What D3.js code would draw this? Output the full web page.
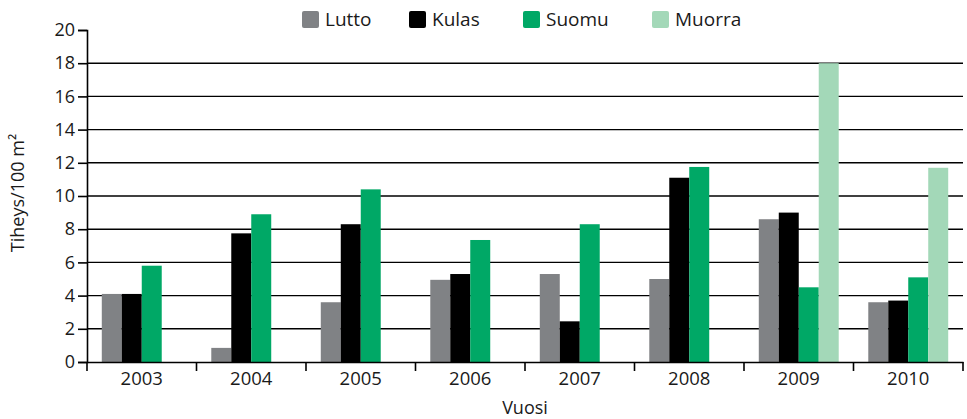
<!DOCTYPE html>
<html>
  <head>
    <meta charset="utf-8">
    <title>Tiheys</title>
    <style>
      body {
        margin: 0;
        padding: 0;
        background: #fff;
        font-family: 'Open Sans', sans-serif;
      }
    </style>
  </head>
  <body>
    <div id="chart"></div>

    <script src="https://cdnjs.cloudflare.com/ajax/libs/d3/7.8.5/d3.min.js"></script>
    <script>
      // Data
      const years = ["2003", "2004", "2005", "2006", "2007", "2008", "2009", "2010"];
      const seriesNames = ["Lutto", "Kulas", "Suomu", "Muorra"];
      const lutto = [4.1, 0.85, 3.6, 4.95, 5.3, 5.0, 8.6, 3.6];
      const kulas = [4.1, 7.75, 8.3, 5.3, 2.45, 11.1, 9.0, 3.7];
      const suomu = [5.8, 8.9, 10.4, 7.35, 8.3, 11.75, 4.5, 5.1];
      const muorra = [null, null, null, null, null, null, 18.0, 11.7];
      const yTicks = [0, 2, 4, 6, 8, 10, 12, 14, 16, 18, 20];
      const colors = ["#808285", "#000000", "#00a866", "#a3d8b8"];

      const values = [lutto, kulas, suomu, muorra];
      const rows = [];
      years.forEach((y, i) => {
        seriesNames.forEach((s, j) => {
          if (values[j][i] != null) rows.push({year: y, series: s, value: values[j][i]});
        });
      });

      const W = 967, H = 419;
      const svg = d3.select('#chart')
                    .append('svg')
                    .attr('width', W)
                    .attr('height', H)
                    .style('font-family', "'Open Sans', sans-serif");

      const x = d3.scaleBand()
                  .domain(years)
                  .range([87, 963])
                  .paddingInner(0)
                  .paddingOuter(0);

      // four bar slots per year, centred in the band
      const xInner = d3.scaleBand()
                       .domain(seriesNames)
                       .range([0, x.bandwidth()])
                       .paddingOuter(0.74)
                       .paddingInner(0);

      const y = d3.scaleLinear()
                  .domain([0, 20])
                  .range([362, 30]);

      const color = d3.scaleOrdinal().domain(seriesNames).range(colors);

      // gridlines
      svg.append('g')
         .selectAll('line')
         .data(yTicks.filter(t => t > 0 && t < 20))
         .enter()
         .append('line')
         .attr('x1', 87)
         .attr('x2', 963)
         .attr('y1', d => y(d))
         .attr('y2', d => y(d))
         .attr('stroke', '#000')
         .attr('stroke-width', 1.4);

      // bars
      svg.append('g')
         .selectAll('rect')
         .data(rows)
         .enter()
         .append('rect')
         .attr('x', d => x(d.year) + xInner(d.series))
         .attr('y', d => y(d.value))
         .attr('width', xInner.bandwidth())
         .attr('height', d => y(0) - y(d.value))
         .attr('fill', d => color(d.series));

      // y axis
      const yAxis = svg.append('g')
         .attr('transform', 'translate(87,0)')
         .call(d3.axisLeft(y).tickValues(yTicks).tickSize(9).tickPadding(3));
      yAxis.select('.domain').attr('stroke', '#000').attr('stroke-width', 1.6);
      yAxis.selectAll('.tick line').attr('stroke-width', 1.6);
      yAxis.selectAll('.tick text')
           .attr('font-size', 18)
           .attr('font-family', "'Open Sans', sans-serif")
           .attr('fill', '#1a1a1a');

      // x axis
      const xAxis = svg.append('g')
         .attr('transform', 'translate(0,362)')
         .call(d3.axisBottom(x).tickSize(0).tickPadding(10));
      xAxis.select('.domain').attr('stroke', '#000').attr('stroke-width', 1.6);
      xAxis.selectAll('.tick text')
           .attr('font-size', 18.5)
           .attr('font-family', "'Open Sans', sans-serif")
           .attr('fill', '#1a1a1a');

      // x separators between categories
      const bounds = years.map(d => x(d)).concat([x(years[years.length - 1]) + x.bandwidth()]);
      svg.append('g')
         .selectAll('line')
         .data(bounds)
         .enter()
         .append('line')
         .attr('x1', d => d)
         .attr('x2', d => d)
         .attr('y1', 362)
         .attr('y2', 371)
         .attr('stroke', '#000')
         .attr('stroke-width', 1.6);

      // axis titles
      svg.append('text')
         .attr('x', 525)
         .attr('y', 414)
         .attr('text-anchor', 'middle')
         .attr('font-size', 18)
         .attr('fill', '#1a1a1a')
         .text('Vuosi');

      svg.append('text')
         .attr('transform', 'translate(24,193) rotate(-90)')
         .attr('text-anchor', 'middle')
         .attr('font-size', 18)
         .attr('fill', '#1a1a1a')
         .text('Tiheys/100 m²');

      // legend
      const legendX = [302, 409, 523, 652];
      const legend = svg.append('g')
         .selectAll('g')
         .data(seriesNames)
         .enter()
         .append('g')
         .attr('transform', (d, i) => `translate(${legendX[i]},11)`);
      legend.append('rect')
            .attr('width', 17)
            .attr('height', 17)
            .attr('rx', 2)
            .attr('fill', d => color(d));
      legend.append('text')
            .attr('x', 23)
            .attr('y', 15)
            .attr('font-size', 19)
            .attr('fill', '#1a1a1a')
            .text(d => d);
    </script>
  </body>
</html>
